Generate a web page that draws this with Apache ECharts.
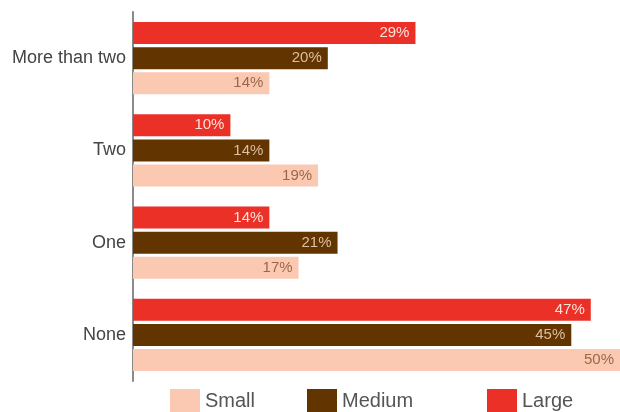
<!DOCTYPE html>
<html>
<head>
<meta charset="utf-8">
<script src="https://cdn.jsdelivr.net/npm/echarts@6/dist/echarts.min.js"></script>
<style>html,body{margin:0;padding:0;background:#fff;}#c{width:620px;height:412px;}</style>
</head>
<body>
<div id="c"></div>
<script>
const categories = ['More than two', 'Two', 'One', 'None'];
const seriesNames = ['Large', 'Medium', 'Small'];
const largeValues = [29, 10, 14, 47];
const mediumValues = [20, 14, 21, 45];
const smallValues = [14, 19, 17, 50];

const colors = { Large: '#ea3027', Medium: '#623400', Small: '#fbc9b2' };
const labelColors = { Large: '#fde3da', Medium: '#dcbfa2', Small: '#9a6848' };
const dataBySeries = { Large: largeValues, Medium: mediumValues, Small: smallValues };

const chart = echarts.init(document.getElementById('c'), null, { renderer: 'canvas' });
const font = 'Liberation Sans, Arial, Helvetica, sans-serif';

function mkLegend(name, left) {
  return {
    data: [name], left: left, top: 389, itemWidth: 30, itemHeight: 24,
    icon: 'rect', padding: 0, itemGap: 6,
    textStyle: { fontSize: 20, color: '#555', fontFamily: font, padding: [8, 0, 0, 0] }
  };
}

chart.setOption({
  animation: false,
  backgroundColor: '#fff',
  legend: [mkLegend('Small', 170), mkLegend('Medium', 307), mkLegend('Large', 487)],
  grid: { left: 133, right: 0, top: 12, bottom: 31, containLabel: false },
  xAxis: {
    type: 'value', min: 0, max: 50, show: false
  },
  yAxis: {
    type: 'category', data: categories, inverse: true,
    axisLine: { show: true, lineStyle: { color: '#8a8a8a', width: 2 } },
    axisTick: { show: false },
    axisLabel: { fontSize: 18, color: '#444', fontFamily: font, margin: 7, padding: [2, 0, 0, 0] }
  },
  series: seriesNames.map(n => ({
    name: n, type: 'bar', data: dataBySeries[n],
    barWidth: 22, barGap: '14%',
    itemStyle: { color: colors[n] },
    label: {
      show: true, position: 'insideRight', distance: 6,
      formatter: '{c}%', color: labelColors[n], fontSize: 15, fontFamily: font,
      padding: [2, 0, 0, 0]
    }
  }))
});
</script>
</body>
</html>
